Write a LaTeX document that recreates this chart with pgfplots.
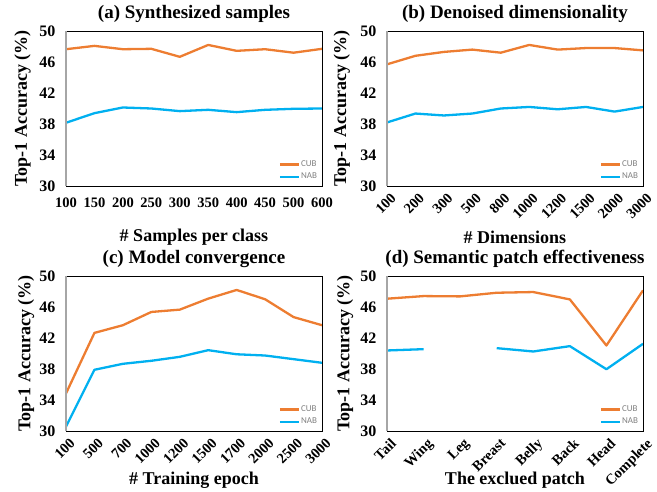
\documentclass[border=0pt]{standalone}
\usepackage{fontspec}
\setmainfont{Liberation Serif}
\newfontfamily\legfont{Carlito}
\usepackage{pgfplots}
\pgfplotsset{compat=1.18}
\definecolor{cub}{RGB}{237,125,49}
\definecolor{nab}{RGB}{0,176,240}
\pgfplotsset{
  panel/.style={
    scale only axis, width=256pt, height=155pt,
    ymin=30, ymax=50, ytick={30,34,38,42,46,50},
    major tick length=0pt,
    xticklabel style={font=\fontsize{14.5}{14.5}\selectfont\bfseries},
    yticklabel style={font=\fontsize{16}{16}\selectfont\bfseries, xshift=-7pt},
    /pgf/number format/assume math mode=true,
    ylabel={Top-1 Accuracy (\%)},
    label style={font=\fontsize{18}{18}\selectfont\bfseries},
    ylabel style={at={(axis description cs:-0.17,0.5)}, anchor=center},
    xlabel style={at={(axis description cs:0.5,-0.33)}, anchor=center},
    title style={font=\fontsize{19}{19}\selectfont\bfseries, at={(axis description cs:0.5,1)}, anchor=south, yshift=-1pt},
    axis line style={black, line width=0.6pt},
    unbounded coords=jump,
    legend style={draw=none, fill=none, font=\legfont\fontsize{9}{9}\selectfont, text=gray,
      at={(axis description cs:0.985,0.1)}, anchor=east, row sep=3pt, inner sep=0pt,
      nodes={inner sep=1pt}},
    legend cell align=left,
    legend image code/.code={\draw[#1] (0pt,0pt) -- (19pt,0pt);},
    every axis plot/.append style={line width=2.3pt, line join=round},
    after end axis/.code={\draw[gray!70, line width=1.6pt] (rel axis cs:0,0) -- (rel axis cs:0,1);},
  },
  rot/.style={xticklabel style={rotate=45, anchor=north east, yshift=-3pt, xshift=1pt}},
}
\begin{document}
\begin{tikzpicture}
\path[use as bounding box] (0,0) rectangle (657pt,491pt);
% (a)
\begin{axis}[panel, at={(66pt,305pt)}, anchor=south west,
  title={(a) Synthesized samples}, xlabel={\# Samples per class},
  xmin=0, xmax=9, xtick={0,...,9},
  xticklabels={100,150,200,250,300,350,400,450,500,600},
  xticklabel style={yshift=-8pt}]
\addplot[cub] coordinates {(0,47.65)(1,48.08)(2,47.65)(3,47.7)(4,46.67)(5,48.2)(6,47.44)(7,47.65)(8,47.2)(9,47.7)};
\addlegendentry{CUB}
\addplot[nab] coordinates {(0,38.16)(1,39.4)(2,40.13)(3,40.0)(4,39.66)(5,39.83)(6,39.53)(7,39.83)(8,39.96)(9,40.0)};
\addlegendentry{NAB}
\end{axis}
% (b)
\begin{axis}[panel, rot, at={(387pt,305pt)}, anchor=south west,
  title={(b) Denoised dimensionality}, xlabel={\# Dimensions},
  ylabel style={at={(axis description cs:-0.176,0.5)}},
  xlabel style={at={(axis description cs:0.5,-0.33)}},
  xmin=0, xmax=9, xtick={0,...,9},
  xticklabels={100,200,300,500,800,1000,1200,1500,2000,3000}]
\addplot[cub] coordinates {(0,45.7)(1,46.8)(2,47.3)(3,47.6)(4,47.2)(5,48.2)(6,47.6)(7,47.8)(8,47.8)(9,47.5)};
\addlegendentry{CUB}
\addplot[nab] coordinates {(0,38.2)(1,39.35)(2,39.1)(3,39.35)(4,40.0)(5,40.2)(6,39.9)(7,40.2)(8,39.6)(9,40.2)};
\addlegendentry{NAB}
\end{axis}
% (c)
\begin{axis}[panel, rot, at={(66pt,60pt)}, anchor=south west,
  title={(c) Model convergence}, xlabel={\# Training epoch},
  ylabel style={at={(axis description cs:-0.156,0.5)}},
  xlabel style={at={(axis description cs:0.5,-0.316)}},
  xmin=0, xmax=9, xtick={0,...,9},
  xticklabels={100,500,700,1000,1200,1500,1700,2000,2500,3000}]
\addplot[cub] coordinates {(0,34.85)(1,42.66)(2,43.65)(3,45.36)(4,45.66)(5,47.08)(6,48.2)(7,47.0)(8,44.7)(9,43.65)};
\addlegendentry{CUB}
\addplot[nab] coordinates {(0,30.56)(1,37.9)(2,38.67)(3,39.06)(4,39.57)(5,40.43)(6,39.9)(7,39.74)(8,39.27)(9,38.8)};
\addlegendentry{NAB}
\end{axis}
% (d)
\begin{axis}[panel, rot, at={(387pt,60pt)}, anchor=south west,
  title={(d) Semantic patch effectiveness}, xlabel={The exclued patch},
  ylabel style={at={(axis description cs:-0.164,0.5)}},
  xlabel style={at={(axis description cs:0.5,-0.32)}},
  xmin=0, xmax=7, xtick={0,...,7},
  xticklabels={Tail,Wing,Leg,Breast,Belly,Back,Head,Complete}]
\addplot[cub] coordinates {(0,47.07)(1,47.41)(2,47.37)(3,47.84)(4,47.93)(5,46.98)(6,41.03)(7,48.15)};
\addlegendentry{CUB}
\addplot[nab] coordinates {(0,40.39)(1,40.56)(2,nan)(3,40.69)(4,40.26)(5,40.95)(6,37.97)(7,41.25)};
\addlegendentry{NAB}
\end{axis}
\end{tikzpicture}
\end{document}
